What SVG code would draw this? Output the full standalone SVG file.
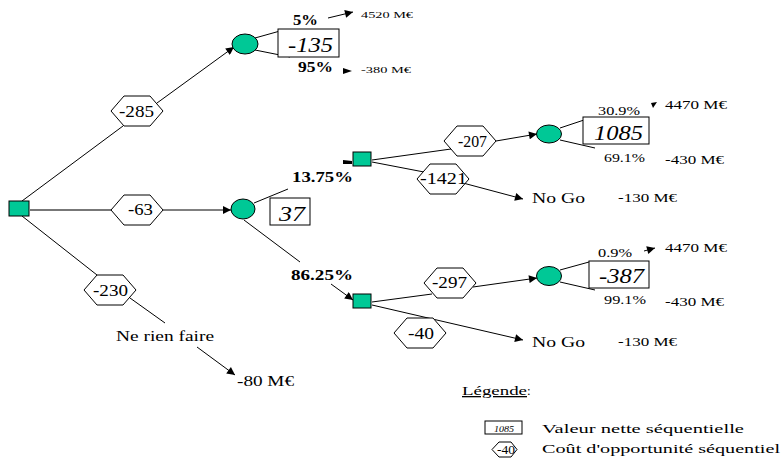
<svg xmlns="http://www.w3.org/2000/svg" width="783" height="458" viewBox="0 0 783 458" font-family="'Liberation Serif', 'Times New Roman', serif">
<style>
text{font-family:"Liberation Serif","Times New Roman",serif;fill:#000}
.dec{fill:#00c896;stroke:#000;stroke-width:1}
.chance{fill:#00c896;stroke:#000;stroke-width:1}
.hex{fill:#fff;stroke:#000;stroke-width:1}
.box{fill:#fff;stroke:#000;stroke-width:1}
.ln{stroke:#000;stroke-width:1;fill:none}
.arr{stroke:#000;stroke-width:1;fill:none;marker-end:url(#ah)}
.hx{font-size:16px;text-anchor:middle}
.val{font-size:20px;font-style:italic;text-anchor:middle}
.pb{font-size:14px;font-weight:bold}
.p{font-size:12px}
.m{font-size:12px}
.ms{font-size:9px}
.big{font-size:15px}
.lg{font-size:13px}
</style>
<defs>
<marker id="ah" viewBox="0 0 10 10" refX="10" refY="5" markerWidth="10" markerHeight="8" markerUnits="userSpaceOnUse" orient="auto">
<path d="M0,0 L10,5 L0,10 z" fill="#000"/>
</marker>
<polygon id="hexshape" points="-26,0 -13,-15 13,-15 26,0 13,15 -13,15"/>
</defs>

<g id="connectors">
<line x1="30" y1="210" x2="112" y2="210" stroke="#777" stroke-width="2"/>
<line class="arr" x1="163" y1="210" x2="231" y2="210"/>
<line class="ln" x1="22" y1="201" x2="123" y2="126"/>
<line class="arr" x1="157" y1="103" x2="234" y2="47"/>
<line class="ln" x1="22" y1="216" x2="97" y2="275"/>
<line class="ln" x1="130" y1="298" x2="165" y2="323"/>
<line class="arr" x1="197" y1="347" x2="235" y2="375"/>
<line class="ln" x1="255" y1="38" x2="280" y2="31"/>
<line class="ln" x1="255" y1="50" x2="290" y2="57"/>
<line class="arr" x1="328" y1="18" x2="353" y2="12"/>
<path d="M343,68 L352,71 L343,74 z" fill="#000"/>
<line class="ln" x1="254" y1="203" x2="288" y2="189"/>
<line class="ln" x1="244" y1="220" x2="300" y2="262"/>
<line class="arr" x1="331" y1="284" x2="353" y2="300"/>
<path d="M343,160 L352,161 L352,164 L343,164 z" fill="#000"/>
<line class="ln" x1="372" y1="160" x2="451" y2="149"/>
<line class="arr" x1="496" y1="141" x2="537" y2="134"/>
<line class="ln" x1="372" y1="162" x2="424" y2="172"/>
<line class="arr" x1="463" y1="183" x2="523" y2="199"/>
<line class="ln" x1="560" y1="128" x2="584" y2="120"/>
<line class="ln" x1="560" y1="140" x2="595" y2="148"/>
<path d="M651,103 L657,102 L653,108 z" fill="#000"/>
<line class="ln" x1="372" y1="302" x2="432" y2="294"/>
<line class="arr" x1="473" y1="287" x2="537" y2="278"/>
<line class="arr" x1="372" y1="305" x2="523" y2="340"/>
<line class="ln" x1="560" y1="270" x2="589" y2="262"/>
<line class="ln" x1="560" y1="282" x2="595" y2="290"/>
<line class="arr" x1="644" y1="251" x2="655" y2="248"/>
</g>

<g id="root"><rect class="dec" x="9" y="201" width="20" height="15"/></g>

<g id="hex-285"><use href="#hexshape" class="hex" x="137" y="111"/><text class="hx" x="136.5" y="117" textLength="35" lengthAdjust="spacingAndGlyphs">-285</text></g>
<g id="hex-63"><use href="#hexshape" class="hex" x="137" y="210"/><text class="hx" x="140.5" y="215" textLength="25" lengthAdjust="spacingAndGlyphs">-63</text></g>
<g id="hex-230"><use href="#hexshape" class="hex" x="110" y="290"/><text class="hx" x="110.5" y="296" textLength="35" lengthAdjust="spacingAndGlyphs">-230</text></g>

<g id="chance-top"><ellipse class="chance" cx="245" cy="44" rx="13" ry="10"/></g>
<g id="val-135"><rect class="box" x="278" y="29" width="61" height="28"/><text class="val" x="310.5" y="52" textLength="45" lengthAdjust="spacingAndGlyphs">-135</text></g>
<g id="out-top">
<text class="pb" x="293" y="25" textLength="25" lengthAdjust="spacingAndGlyphs">5%</text>
<text class="ms" x="361" y="18" textLength="52" lengthAdjust="spacingAndGlyphs">4520 M€</text>
<text class="pb" x="298" y="72" textLength="35" lengthAdjust="spacingAndGlyphs">95%</text>
<text class="ms" x="361" y="73" textLength="50" lengthAdjust="spacingAndGlyphs">-380 M€</text>
</g>

<g id="chance-mid"><ellipse class="chance" cx="243" cy="209" rx="12" ry="10"/></g>
<g id="val-37"><rect class="box" x="270" y="198" width="40" height="27"/><text class="val" x="292" y="221" textLength="26" lengthAdjust="spacingAndGlyphs">37</text></g>
<g id="prob-mid">
<text class="pb" x="292" y="182" textLength="61" lengthAdjust="spacingAndGlyphs">13.75%</text>
<text class="pb" x="291" y="280" textLength="62" lengthAdjust="spacingAndGlyphs">86.25%</text>
</g>

<g id="dec-upper"><rect class="dec" x="353" y="152" width="18" height="14"/></g>
<g id="hex-207"><use href="#hexshape" class="hex" x="470" y="141"/><text class="hx" x="472.5" y="147" textLength="29" lengthAdjust="spacingAndGlyphs">-207</text></g>
<g id="hex-1421"><use href="#hexshape" class="hex" x="443" y="179"/><text class="hx" x="443.5" y="184" textLength="47" lengthAdjust="spacingAndGlyphs">-1421</text></g>
<g id="chance-upper"><ellipse class="chance" cx="549" cy="134" rx="12.5" ry="9"/></g>
<g id="val-1085"><rect class="box" x="583" y="117" width="66" height="27"/><text class="val" x="618.5" y="140" textLength="49" lengthAdjust="spacingAndGlyphs">1085</text></g>
<g id="out-upper">
<text class="p" x="598" y="115" textLength="42" lengthAdjust="spacingAndGlyphs">30.9%</text>
<text class="m" x="665" y="109" textLength="62" lengthAdjust="spacingAndGlyphs">4470 M€</text>
<text class="p" x="604" y="162" textLength="41" lengthAdjust="spacingAndGlyphs">69.1%</text>
<text class="m" x="665" y="164" textLength="59" lengthAdjust="spacingAndGlyphs">-430 M€</text>
<text class="big" x="532" y="203" textLength="53" lengthAdjust="spacingAndGlyphs">No Go</text>
<text class="m" x="618" y="202" textLength="59" lengthAdjust="spacingAndGlyphs">-130 M€</text>
</g>

<g id="dec-lower"><rect class="dec" x="353" y="294" width="18" height="14"/></g>
<g id="hex-297"><use href="#hexshape" class="hex" x="450" y="283"/><text class="hx" x="449.5" y="288" textLength="35" lengthAdjust="spacingAndGlyphs">-297</text></g>
<g id="hex-40"><use href="#hexshape" class="hex" x="420" y="333"/><text class="hx" x="421" y="339" textLength="26" lengthAdjust="spacingAndGlyphs">-40</text></g>
<g id="chance-lower"><ellipse class="chance" cx="549" cy="276" rx="12.5" ry="9.5"/></g>
<g id="val-387"><rect class="box" x="589" y="261" width="60" height="27"/><text class="val" x="621.5" y="283" textLength="45" lengthAdjust="spacingAndGlyphs">-387</text></g>
<g id="out-lower">
<text class="p" x="598" y="257" textLength="34" lengthAdjust="spacingAndGlyphs">0.9%</text>
<text class="m" x="665" y="252" textLength="62" lengthAdjust="spacingAndGlyphs">4470 M€</text>
<text class="p" x="604" y="304" textLength="42" lengthAdjust="spacingAndGlyphs">99.1%</text>
<text class="m" x="665" y="306" textLength="59" lengthAdjust="spacingAndGlyphs">-430 M€</text>
<text class="big" x="532" y="347" textLength="53" lengthAdjust="spacingAndGlyphs">No Go</text>
<text class="m" x="618" y="346" textLength="59" lengthAdjust="spacingAndGlyphs">-130 M€</text>
</g>

<g id="nothing">
<text class="big" x="116" y="341" textLength="98" lengthAdjust="spacingAndGlyphs">Ne rien faire</text>
<text class="big" x="237" y="386" textLength="57" lengthAdjust="spacingAndGlyphs">-80 M€</text>
</g>

<g id="legend">
<text class="lg" x="462" y="395" textLength="65" lengthAdjust="spacingAndGlyphs" text-decoration="underline">Légende</text><text class="lg" x="527" y="395">:</text>
<rect class="box" x="485" y="421" width="37" height="13"/>
<text x="504" y="431.5" font-size="9" font-style="italic" text-anchor="middle" textLength="20" lengthAdjust="spacingAndGlyphs">1085</text>
<text class="lg" x="542" y="433" textLength="202" lengthAdjust="spacingAndGlyphs">Valeur nette séquentielle</text>
<polygon class="hex" points="492,449.5 499,442 511,442 517,449.5 511,457 499,457"/>
<text class="lg" x="506" y="454" text-anchor="middle" textLength="18" lengthAdjust="spacingAndGlyphs">-40</text>
<text class="lg" x="542" y="453" textLength="238" lengthAdjust="spacingAndGlyphs">Coût d'opportunité séquentiel</text>
</g>
</svg>
